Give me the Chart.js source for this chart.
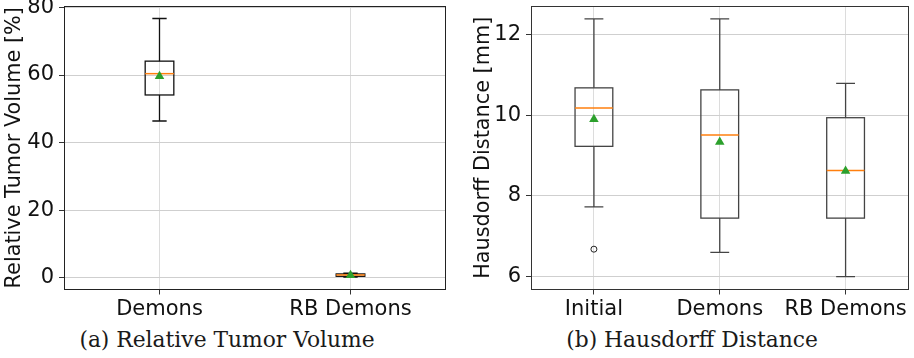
<!DOCTYPE html>
<html>
<head>
<meta charset="utf-8">
<script src="https://cdn.jsdelivr.net/npm/chart.js@4.4.1/dist/chart.umd.min.js"></script>
<style>
  body { margin: 0; background: #fff; }
  #wrap { position: relative; width: 914px; height: 358px; overflow: hidden; }
  .panel { position: absolute; top: 0; height: 320px; }
  .cap { position: absolute; top: 327px; font-family: "DejaVu Serif", serif; font-size: 21.8px; color: #1a1a1a; text-align: center; white-space: nowrap; }
</style>
</head>
<body>
<div id="wrap">
  <div class="panel" style="left:0;width:456px"><canvas id="tumor"></canvas></div>
  <div class="panel" style="left:456px;width:458px"><canvas id="hausdorff"></canvas></div>
  <div class="cap" style="left:27px;width:400px">(a) Relative Tumor Volume</div>
  <div class="cap" style="left:492px;width:400px">(b) Hausdorff Distance</div>
</div>
<script>
// (a) relative tumor volume, percent
var tumorLabels = ['Demons', 'RB Demons'];
var tumorWhiskLo = [46.4, 0.3];
var tumorQ1 = [54.1, 0.5];
var tumorMedian = [60.4, 0.9];
var tumorQ3 = [64.1, 1.2];
var tumorWhiskHi = [76.7, 1.4];
var tumorMean = [59.6, 0.8];
var tumorOutliers = [[], []];
var tumorTicks = [0, 20, 40, 60, 80];

// (b) hausdorff distance, mm
var hdLabels = ['Initial', 'Demons', 'RB Demons'];
var hdWhiskLo = [7.73, 6.6, 6.0];
var hdQ1 = [9.23, 7.45, 7.45];
var hdMedian = [10.18, 9.51, 8.63];
var hdQ3 = [10.68, 10.63, 9.94];
var hdWhiskHi = [12.39, 12.39, 10.79];
var hdMean = [9.9, 9.34, 8.62];
var hdOutliers = [[6.68], [], []];
var hdTicks = [6, 8, 10, 12];

var FONT = '"DejaVu Sans", sans-serif';

function makeBoxPlugin(st) {
  return {
    id: 'boxes',
    beforeDatasetsDraw: function(chart) {
      var ctx = chart.ctx, xs = chart.scales.x, ys = chart.scales.y, a = chart.chartArea;
      var i, pos, xl, xr, cl, cr, xc;
      ctx.save();
      // frame around the plot
      ctx.strokeStyle = st.frame;
      ctx.lineWidth = 1;
      ctx.strokeRect(Math.round(a.left) + 0.5, Math.round(a.top) + 0.5,
        Math.round(a.right - a.left) - 1, Math.round(a.bottom - a.top) - 1);
      for (i = 0; i < st.median.length; i++) {
        pos = i + 1;
        xc = xs.getPixelForValue(pos);
        xl = xs.getPixelForValue(pos - st.width / 2);
        xr = xs.getPixelForValue(pos + st.width / 2);
        cl = xs.getPixelForValue(pos - st.width / 4);
        cr = xs.getPixelForValue(pos + st.width / 4);
        ctx.strokeStyle = st.color;
        ctx.lineWidth = 1.3;
        ctx.beginPath();
        // whiskers
        ctx.moveTo(xc, ys.getPixelForValue(st.q3[i]));
        ctx.lineTo(xc, ys.getPixelForValue(st.hi[i]));
        ctx.moveTo(xc, ys.getPixelForValue(st.q1[i]));
        ctx.lineTo(xc, ys.getPixelForValue(st.lo[i]));
        // caps
        ctx.moveTo(cl, ys.getPixelForValue(st.hi[i]));
        ctx.lineTo(cr, ys.getPixelForValue(st.hi[i]));
        ctx.moveTo(cl, ys.getPixelForValue(st.lo[i]));
        ctx.lineTo(cr, ys.getPixelForValue(st.lo[i]));
        ctx.stroke();
        // box
        ctx.strokeRect(xl, ys.getPixelForValue(st.q3[i]), xr - xl,
          ys.getPixelForValue(st.q1[i]) - ys.getPixelForValue(st.q3[i]));
        // median
        ctx.strokeStyle = '#ff7f0e';
        ctx.lineWidth = 1.5;
        ctx.beginPath();
        ctx.moveTo(xl, ys.getPixelForValue(st.median[i]));
        ctx.lineTo(xr, ys.getPixelForValue(st.median[i]));
        ctx.stroke();
      }
      ctx.restore();
    }
  };
}

function makeChart(id, o) {
  var means = o.mean.map(function(v, i) { return {x: i + 1, y: v}; });
  var fliers = [];
  o.outliers.forEach(function(list, i) {
    list.forEach(function(v) { fliers.push({x: i + 1, y: v}); });
  });
  return new Chart(document.getElementById(id), {
    type: 'scatter',
    data: {
      datasets: [
        { data: means, pointStyle: 'triangle', pointRadius: 5.5, backgroundColor: '#2ca02c', borderColor: '#2ca02c', borderWidth: 0 },
        { data: fliers, pointStyle: 'circle', pointRadius: 3, backgroundColor: 'rgba(0,0,0,0)', borderColor: '#222', borderWidth: 1 }
      ]
    },
    plugins: [makeBoxPlugin({
      lo: o.lo, q1: o.q1, median: o.median, q3: o.q3, hi: o.hi,
      width: o.boxWidth, color: o.color, frame: o.frame
    })],
    options: {
      responsive: true,
      maintainAspectRatio: false,
      animation: false,
      events: [],
      layout: { padding: { top: 6, right: o.padRight, left: 0, bottom: 0 } },
      plugins: { legend: { display: false }, tooltip: { enabled: false } },
      scales: {
        x: {
          type: 'linear',
          min: 0.5,
          max: o.labels.length + 0.5,
          afterBuildTicks: function(s) {
            s.ticks = o.labels.map(function(l, i) { return {value: i + 1}; });
          },
          afterFit: function(s) {
            s.height = 30.5;
            s.paddingLeft = 0;
            s.paddingRight = 0;
          },
          border: { display: false },
          grid: { color: '#dcdcdc', lineWidth: 1, tickLength: 5, tickColor: '#333' },
          ticks: {
            padding: 2,
            color: '#111',
            font: { family: FONT, size: 21 },
            maxRotation: 0,
            autoSkip: false,
            callback: function(v) { return o.labels[Math.round(v) - 1]; }
          }
        },
        y: {
          min: o.yMin,
          max: o.yMax,
          afterBuildTicks: function(s) {
            s.ticks = o.ticks.map(function(v) { return {value: v}; });
          },
          afterFit: function(s) {
            s.width = o.yWidth;
            s.paddingTop = 0;
            s.paddingBottom = 0;
          },
          border: { display: false },
          grid: { color: '#cfcfcf', lineWidth: 1, tickLength: 5, tickColor: '#333' },
          ticks: { padding: 5, color: '#111', font: { family: FONT, size: 21 } },
          title: {
            display: true,
            text: o.title,
            color: '#111',
            font: { family: FONT, size: 20.8, lineHeight: 1 },
            padding: { top: o.titlePad, bottom: 0 }
          }
        }
      }
    }
  });
}

makeChart('tumor', {
  labels: tumorLabels, lo: tumorWhiskLo, q1: tumorQ1, median: tumorMedian, q3: tumorQ3,
  hi: tumorWhiskHi, mean: tumorMean, outliers: tumorOutliers, ticks: tumorTicks,
  yMin: -3.4, yMax: 80.4, title: 'Relative Tumor Volume [%]', titlePad: 4,
  yWidth: 64, padRight: 10, boxWidth: 0.15, color: '#111', frame: '#222'
});

makeChart('hausdorff', {
  labels: hdLabels, lo: hdWhiskLo, q1: hdQ1, median: hdMedian, q3: hdQ3,
  hi: hdWhiskHi, mean: hdMean, outliers: hdOutliers, ticks: hdTicks,
  yMin: 5.68, yMax: 12.71, title: 'Hausdorff Distance [mm]', titlePad: 17,
  yWidth: 75, padRight: 2, boxWidth: 0.3, color: '#444', frame: '#333'
});
</script>
</body>
</html>
